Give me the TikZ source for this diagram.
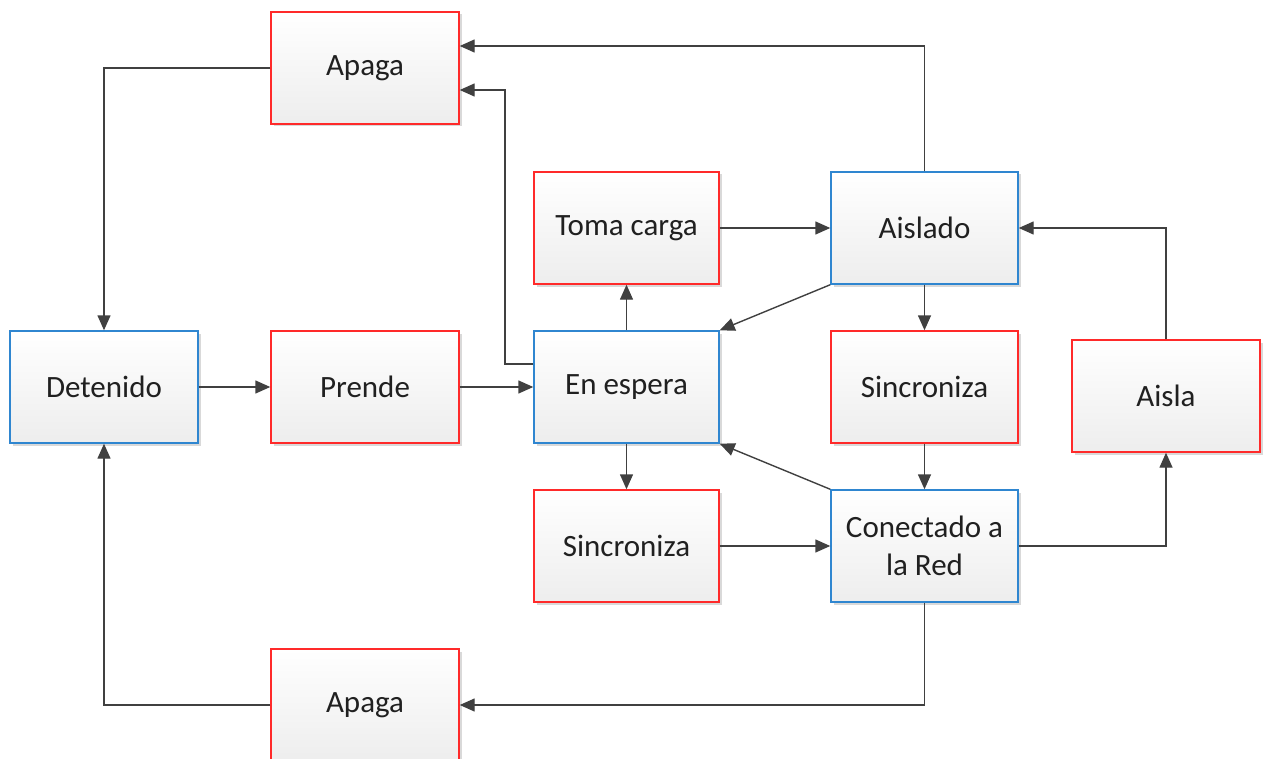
\documentclass[tikz,border=0pt]{standalone}
\usepackage{fontspec}
\setmainfont{Carlito}
\usetikzlibrary{arrows.meta,shadows}
\definecolor{boxred}{HTML}{FF2A2A}
\definecolor{boxblue}{HTML}{2F86D0}
\definecolor{linegray}{HTML}{404040}
\definecolor{txt}{HTML}{202020}
\begin{document}
\begin{tikzpicture}[x=1pt,y=-1pt,
  box/.style={rectangle, minimum width=188pt, minimum height=112pt, inner sep=0pt,
    line width=1.4pt, top color=white, bottom color=black!7, text=txt, align=center,
    font=\fontsize{31}{38}\selectfont,
    drop shadow={shadow xshift=2.5pt, shadow yshift=-2.5pt, fill=black!25, opacity=0.6}},
  act/.style={box, draw=boxred},
  st/.style={box, draw=boxblue},
  conn/.style={draw=linegray, line width=1.4pt, -{Triangle[length=15pt,width=13pt]}}]
\useasboundingbox (0,0) rectangle (1263,759);
\node[act] (apagaT) at (365,68) {Apaga};
\node[st] (det) at (104,387) {Detenido};
\node[act] (prende) at (365,387) {Prende};
\node[st, minimum width=185pt] (espera) at (626.5,387) {En espera};
\node[act, minimum width=185pt] (toma) at (626.5,228) {Toma carga};
\node[st, minimum width=187pt] (aislado) at (924.5,228) {Aislado};
\node[act, minimum width=187pt] (sincR) at (924.5,387) {Sincroniza};
\node[act] (aisla) at (1166,396) {Aisla};
\node[act, minimum width=185pt] (sincB) at (626.5,546) {Sincroniza};
\node[st, minimum width=187pt] (con) at (924.5,546) {Conectado a\\la Red};
\node[act] (apagaB) at (365,705) {Apaga};

\coordinate (c1) at (104,68);
\coordinate (c2) at (104,705);
\draw[conn] (apagaT.west) -- (c1) -- (det.north);
\draw[conn] (apagaB.west) -- (c2) -- (det.south);
\draw[conn] (det.east) -- (prende.west);
\draw[conn] (prende.east) -- (espera.west);
\coordinate (e1) at (505,364);
\coordinate (e2) at (505,90);
\draw[conn] (espera.west |- e1) -- (e1) -- (e2) -- (apagaT.east |- e2);
\coordinate (a1) at (924,46);
\draw[conn] (aislado.north) -- (aislado.north |- a1) -- (apagaT.east |- a1);
\draw[conn] (espera.north) -- (toma.south);
\draw[conn] (toma.east) -- (aislado.west);
\draw[conn] (aislado.south west) -- (espera.north east);
\draw[conn] (aislado.south) -- (sincR.north);
\draw[conn] (sincR.south) -- (con.north);
\draw[conn] (con.north west) -- (espera.south east);
\draw[conn] (espera.south) -- (sincB.north);
\draw[conn] (sincB.east) -- (con.west);
\draw[conn] (con.east) -| (aisla.south);
\draw[conn] (aisla.north) |- (aislado.east);
\draw[conn] (con.south) |- (apagaB.east);
\end{tikzpicture}
\end{document}
